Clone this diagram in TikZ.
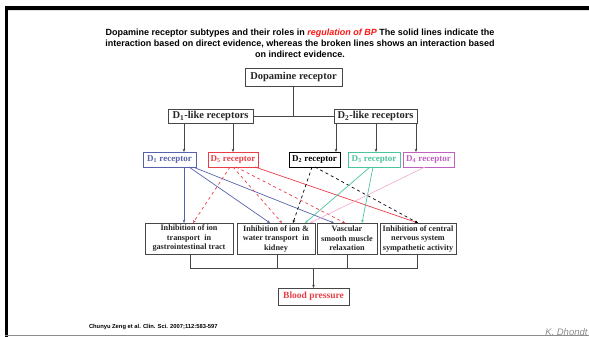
\documentclass[tikz,border=0pt]{standalone}
\usepackage{fontspec}
\setmainfont{Liberation Serif}
\newfontfamily\arialf{Liberation Sans}
\usetikzlibrary{arrows.meta}
\definecolor{recblue}{RGB}{88,98,172}
\definecolor{recred}{RGB}{232,62,72}
\definecolor{recteal}{RGB}{76,196,158}
\definecolor{recmag}{RGB}{192,96,192}
\definecolor{recpink}{RGB}{242,176,214}
\definecolor{boxline}{RGB}{70,70,70}
\definecolor{titlered}{RGB}{255,20,20}
\begin{document}
\begin{tikzpicture}[x=1pt,y=-1pt,
  every node/.style={inner sep=0pt, outer sep=0pt},
  tip/.style={-{Stealth[length=3.2pt,width=2.6pt]}},
  link/.style={tip, line width=0.7pt},
  boxbase/.style={draw=boxline, line width=0.9pt, fill=white, anchor=north west,
    font=\bfseries, text=black!85, align=center},
  topbox/.style={boxbase, font=\fontsize{10.5}{12}\selectfont\bfseries},
  recbox/.style={draw=#1, line width=0.9pt, fill=white, anchor=north west,
    text=#1, minimum height=15pt, font=\fontsize{9}{10}\selectfont\bfseries},
  effbox/.style={boxbase, minimum height=31pt, font=\fontsize{8.2}{9.5}\selectfont\bfseries}
]
\useasboundingbox (0,0) rectangle (589,337);

% slide frame
\fill[black!12] (8,9.5) rectangle (589,11);
\fill[black] (5,6) rectangle (589,9.6);
\fill[black] (5,6) rectangle (8.3,337);
\draw[black!45, line width=0.8pt] (5,335.6) -- (589,335.6);

% heading
\node[align=center, font=\fontsize{9}{11}\selectfont\arialf\bfseries] (title) at (300,43)
  {Dopamine receptor subtypes and their roles in {\color{titlered}\itshape regulation of BP} The solid lines indicate the\\
   interaction based on direct evidence, whereas the broken lines shows an interaction based\\
   on indirect evidence.};

% hierarchy of receptors
\node[topbox, minimum width=97pt, minimum height=18pt] (dop) at (245,68) {Dopamine receptor};
\node[topbox, minimum width=85pt, minimum height=14pt] (d1like) at (168,109) {D\textsubscript{1}-like receptors};
\node[topbox, minimum width=83pt, minimum height=14pt] (d2like) at (334,109) {D\textsubscript{2}-like receptors};

\node[recbox=recblue, minimum width=53pt] (r1) at (143,152) {D\textsubscript{1} receptor};
\node[recbox=recred,  minimum width=50pt] (r5) at (208,152) {D\textsubscript{5} receptor};
\node[recbox=black,   minimum width=51pt] (r2) at (289,152) {D\textsubscript{2} receptor};
\node[recbox=recteal, minimum width=52pt] (r3) at (348,152) {D\textsubscript{3} receptor};
\node[recbox=recmag,  minimum width=51pt] (r4) at (403,152) {D\textsubscript{4} receptor};

% physiological effects
\node[effbox, minimum width=88pt] (e1) at (145,223) {Inhibition of ion\\transport\ \ in\\gastrointestinal tract};
\node[effbox, minimum width=78pt] (e2) at (237,223) {Inhibition of ion \&\\water transport\ \ in\\kidney};
\node[effbox, minimum width=60pt] (e3) at (317,223) {Vascular\\smooth muscle\\relaxation};
\node[effbox, minimum width=76pt] (e4) at (380,223) {Inhibition of central\\nervous system\\sympathetic activity};

\node[boxbase, minimum width=71pt, minimum height=17pt, text=recred,
  font=\fontsize{9.5}{11}\selectfont\bfseries] (bp) at (278,288) {Blood pressure};

% tree: dopamine receptor to families
\draw[boxline, line width=0.8pt] (dop.south) |- (d1like.east);
\draw[boxline, line width=0.8pt] (dop.south) |- (d2like.west);

% families to subtypes
\draw[link, boxline] ([xshift=16pt]d1like.south west) -- ([xshift=41pt]r1.north west);
\draw[link, boxline] ([xshift=65pt]d1like.south west) -- ([xshift=25pt]r5.north west);
\draw[link, boxline] ([xshift=2pt]d2like.south west) -- ([xshift=47pt]r2.north west);
\draw[link, boxline] ([xshift=42pt]d2like.south west) -- ([xshift=28pt]r3.north west);
\draw[link, boxline] ([xshift=82pt]d2like.south west) -- ([xshift=13pt]r4.north west);

% D1 receptor (direct evidence)
\draw[link, recblue] ([xshift=41pt]r1.south west) -- ([xshift=39pt]e1.north west);
\draw[link, recblue] ([xshift=46pt]r1.south west) -- ([xshift=33pt]e2.north west);
\draw[link, recblue] ([xshift=50pt]r1.south west) -- ([xshift=17pt]e3.north west);

% D5 receptor
\draw[link, recred, dashed] ([xshift=22pt]r5.south west) -- ([xshift=48pt]e1.north west);
\draw[link, recred, dashed] ([xshift=25pt]r5.south west) -- ([xshift=45pt]e2.north west);
\draw[link, recred, dashed] ([xshift=28pt]r5.south west) -- ([xshift=28pt]e3.north west);
\draw[link, recred] ([xshift=47pt]r5.south west) -- ([xshift=38pt]e4.north west);

% D2 receptor (indirect evidence)
\draw[link, black, dashed] ([xshift=23pt]r2.south west) -- ([xshift=56pt]e2.north west);
\draw[link, black, dashed] ([xshift=26pt]r2.south west) -- ([xshift=38pt]e4.north west);

% D3 receptor
\draw[link, recteal] ([xshift=22pt]r3.south west) -- ([xshift=68pt]e2.north west);
\draw[link, recteal] ([xshift=25pt]r3.south west) -- ([xshift=45pt]e3.north west);

% D4 receptor
\draw[link, recpink] ([xshift=22pt]r4.south west) -- ([xshift=73pt]e2.north west);

% effects converge on blood pressure
\coordinate (bus) at (313.5,268);
\draw[boxline, line width=0.8pt] ([xshift=45pt]e1.south west) |- (bus);
\draw[boxline, line width=0.8pt] ([xshift=40pt]e2.south west) |- (bus);
\draw[boxline, line width=0.8pt] ([xshift=30pt]e3.south west) |- (bus);
\draw[boxline, line width=0.8pt] ([xshift=37pt]e4.south west) |- (bus);
\draw[link, boxline] (bus) -- (bp.north);

% source line and author mark
\node[anchor=west, font=\fontsize{5.8}{6.5}\selectfont\arialf\bfseries] (src) at (89,327)
  {Chunyu Zeng et al. Clin. Sci. 2007;112:583-597};
\node[anchor=base east, text=black!45, font=\fontsize{9.5}{11}\selectfont\arialf\itshape] (auth) at (587.5,335.5)
  {K. Dhondt};
\end{tikzpicture}
\end{document}
